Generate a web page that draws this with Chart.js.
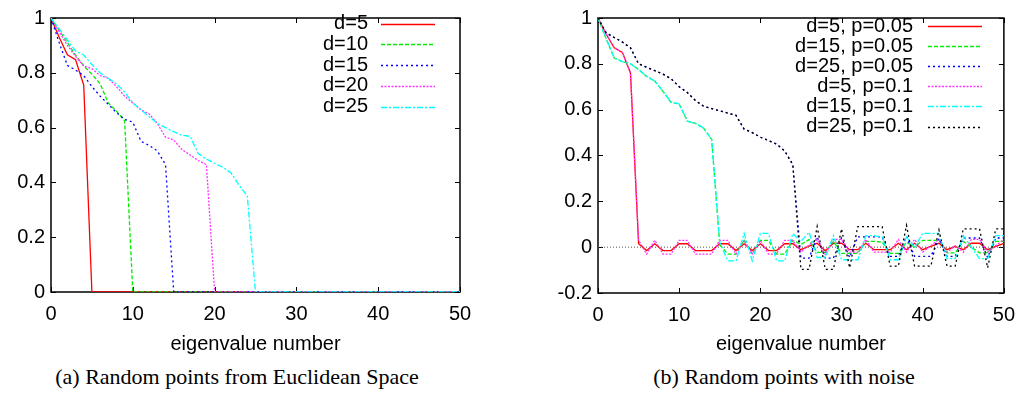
<!DOCTYPE html>
<html><head><meta charset="utf-8">
<script src="https://cdn.jsdelivr.net/npm/chart.js@4.4.0/dist/chart.umd.min.js"></script>
<style>
html,body{margin:0;padding:0;background:#fff;width:1025px;height:399px;overflow:hidden;}
.wrap{position:absolute;top:0;height:360px;}
.cap{position:absolute;top:364px;font-family:"Liberation Serif","Times New Roman",serif;font-size:22px;line-height:26px;color:#000;white-space:nowrap;transform:translateX(-50%);}
</style></head>
<body>
<div class="wrap" style="left:0;width:512px"><canvas id="c1" width="512" height="360"></canvas></div>
<div class="wrap" style="left:512px;width:513px"><canvas id="c2" width="513" height="360"></canvas></div>
<div class="cap" style="left:237px">(a) Random points from Euclidean Space</div>
<div class="cap" style="left:784px">(b) Random points with noise</div>
<script>
// ---------- data ----------
const eigenNumber = [0,1,2,3,4,5,6,7,8,9,10,11,12,13,14,15,16,17,18,19,20,21,22,23,24,25,26,27,28,29,30,31,32,33,34,35,36,37,38,39,40,41,42,43,44,45,46,47,48,49,50];

const xTicks = [0,10,20,30,40,50];
const xTickLabels = ['0','10','20','30','40','50'];
const yTicksLeft = [0,0.2,0.4,0.6,0.8,1];
const yTickLabelsLeft = ['0','0.2','0.4','0.6','0.8','1'];
const yTicksRight = [-0.2,0,0.2,0.4,0.6,0.8,1];
const yTickLabelsRight = ['-0.2','0','0.2','0.4','0.6','0.8','1'];

// (a) Random points from Euclidean Space
const seriesLabelsLeft = ['d=5','d=10','d=15','d=20','d=25'];
const leftD5  = [1,0.93,0.866,0.848,0.755,0,0,0,0,0,0,0,0,0,0,0,0,0,0,0,0,0,0,0,0,0,0,0,0,0,0,0,0,0,0,0,0,0,0,0,0,0,0,0,0,0,0,0,0,0,0];
const leftD10 = [1,0.955,0.91,0.865,0.825,0.795,0.76,0.69,0.66,0.625,0,0,0,0,0,0,0,0,0,0,0,0,0,0,0,0,0,0,0,0,0,0,0,0,0,0,0,0,0,0,0,0,0,0,0,0,0,0,0,0,0];
const leftD15 = [1,0.91,0.827,0.81,0.79,0.75,0.715,0.685,0.655,0.63,0.62,0.55,0.535,0.515,0.465,0,0,0,0,0,0,0,0,0,0,0,0,0,0,0,0,0,0,0,0,0,0,0,0,0,0,0,0,0,0,0,0,0,0,0,0];
const leftD20 = [1,0.95,0.9,0.86,0.825,0.815,0.79,0.78,0.75,0.715,0.69,0.665,0.65,0.615,0.565,0.555,0.52,0.5,0.48,0.465,0,0,0,0,0,0,0,0,0,0,0,0,0,0,0,0,0,0,0,0,0,0,0,0,0,0,0,0,0,0,0];
const leftD25 = [1,0.96,0.92,0.88,0.865,0.83,0.8,0.78,0.76,0.73,0.69,0.665,0.64,0.615,0.6,0.585,0.572,0.568,0.505,0.485,0.47,0.455,0.435,0.39,0.35,0,0,0,0,0,0,0,0,0,0,0,0,0,0,0,0,0,0,0,0,0,0,0,0,0,0];

// (b) Random points with noise
const seriesLabelsRight = ['d=5, p=0.05','d=15, p=0.05','d=25, p=0.05','d=5, p=0.1','d=15, p=0.1','d=25, p=0.1'];
const rightD5p05  = [1,0.93,0.87,0.85,0.76, 0.015,-0.015,0.015,-0.015,-0.015, 0.015,0.015,-0.015,-0.015,-0.015, 0.015,0.015,-0.015,0.015,-0.015, 0.015,-0.015,-0.015,0.015,0.015, -0.011,0.005,0.017,-0.016,0.017, 0.017,-0.011,-0.011,0.017,-0.011, -0.011,-0.011,0.017,-0.011,0.017, -0.011,0.003,0.017,-0.011,0.003, -0.011,0.017,0.017,-0.011,0.003, 0.017];
const rightD15p05 = [1,0.91,0.825,0.81,0.80, 0.775,0.745,0.725,0.68,0.632, 0.625,0.55,0.54,0.52,0.47, 0.01,-0.03,-0.03,0.03,-0.03, 0.03,0.03,-0.03,-0.03,0.03, 0.012,0.033,-0.023,-0.023,0.025, -0.027,-0.027,-0.027,0.025,0.025, 0.022,-0.027,-0.027,0.022,0.0, 0.03,0.03,0.03,-0.025,-0.025, 0.025,0.0,-0.025,-0.025,0.025, 0.025];
const rightD25p05 = [1,0.935,0.915,0.895,0.87, 0.80,0.785,0.77,0.755,0.735, 0.70,0.675,0.64,0.615,0.605, 0.595,0.585,0.575,0.515,0.50, 0.48,0.465,0.45,0.42,0.36, -0.048,-0.048,0.045,-0.048,-0.048, 0.04,-0.045,0.045,0.045,0.045, 0.045,-0.04,-0.04,0.047,-0.04, -0.04,-0.04,0.037,-0.04,-0.04, 0.04,0.04,0.04,-0.045,0.04, 0.04];
const rightD5p1   = [1,0.93,0.87,0.85,0.76, 0.03,-0.03,0.03,-0.03,-0.03, 0.03,0.03,-0.03,-0.03,-0.03, 0.03,0.03,-0.03,0.03,-0.03, 0.03,-0.03,-0.03,0.03,0.03, -0.022,0.01,0.034,-0.032,0.034, 0.034,-0.022,-0.022,0.034,-0.022, -0.022,-0.022,0.034,-0.022,0.034, -0.022,0.006,0.034,-0.022,0.006, -0.022,0.034,0.034,-0.022,0.006, 0.034];
const rightD15p1  = [1,0.91,0.825,0.81,0.80, 0.775,0.745,0.725,0.68,0.632, 0.625,0.55,0.54,0.52,0.47, 0.02,-0.06,-0.06,0.06,-0.06, 0.06,0.06,-0.06,-0.06,0.06, 0.025,0.065,-0.045,-0.045,0.05, -0.055,-0.055,-0.055,0.05,0.05, 0.045,-0.055,-0.055,0.045,0.0, 0.06,0.06,0.06,-0.05,-0.05, 0.05,0.0,-0.05,-0.05,0.05, 0.05];
const rightD25p1  = [1,0.935,0.915,0.895,0.87, 0.80,0.785,0.77,0.755,0.735, 0.70,0.675,0.64,0.615,0.605, 0.595,0.585,0.575,0.515,0.50, 0.48,0.465,0.45,0.42,0.36, -0.097,-0.097,0.09,-0.097,-0.097, 0.08,-0.09,0.09,0.09,0.09, 0.09,-0.083,-0.083,0.095,-0.083, -0.083,-0.083,0.075,-0.083,-0.083, 0.08,0.08,0.08,-0.09,0.08, 0.08];
const zeroRefX = [0,50];
const zeroRefY = [0,0];

// ---------- styling ----------
const SANS = '"Liberation Sans", Arial, Helvetica, sans-serif';
Chart.defaults.font.family = SANS;
Chart.defaults.font.size = 20;
Chart.defaults.color = '#000';

const styles = [
  {color:'#ff0000', dash:[]},
  {color:'#00ee00', dash:[4,2]},
  {color:'#0000ff', dash:[2,3]},
  {color:'#ff33ff', dash:[2,1.5]},
  {color:'#00ffff', dash:[6,2,2,2]},
  {color:'#000000', dash:[2,3]}
];

function toPts(xs, ys){ return ys.map((v,i)=>({x:xs[i], y:v})); }

function makeDatasets(labels, arrays){
  const n = arrays.length;
  return arrays.map((arr,i)=>({
    label: labels[i],
    data: toPts(eigenNumber, arr),
    borderColor: styles[i].color,
    borderDash: styles[i].dash,
    borderWidth: 1.3,
    pointRadius: 0,
    tension: 0,
    fill: false,
    order: n - i + 1
  }));
}

const framePlugin = {
  id:'frame',
  beforeDatasetsDraw(chart){
    const {ctx, chartArea:a} = chart;
    const x = chart.scales.x, y = chart.scales.y;
    ctx.save();
    ctx.strokeStyle = '#000';
    ctx.lineWidth = 1.5;
    ctx.setLineDash([]);
    ctx.strokeRect(a.left, a.top, a.right - a.left, a.bottom - a.top);
    ctx.lineWidth = 1;
    const L = 5;
    ctx.beginPath();
    x.ticks.forEach(t=>{
      const px = Math.round(x.getPixelForValue(t.value)) + 0.5;
      ctx.moveTo(px, a.bottom); ctx.lineTo(px, a.bottom - L);
      ctx.moveTo(px, a.top); ctx.lineTo(px, a.top + L);
    });
    y.ticks.forEach(t=>{
      const py = Math.round(y.getPixelForValue(t.value)) + 0.5;
      ctx.moveTo(a.left, py); ctx.lineTo(a.left + L, py);
      ctx.moveTo(a.right, py); ctx.lineTo(a.right - L, py);
    });
    ctx.stroke();
    ctx.restore();
  }
};

const keyPlugin = {
  id:'keyLegend',
  afterDatasetsDraw(chart, args, opts){
    const ctx = chart.ctx;
    ctx.save();
    ctx.font = '20px ' + SANS;
    ctx.textAlign = 'right';
    ctx.textBaseline = 'middle';
    let row = 0;
    chart.data.datasets.forEach(ds=>{
      if (!ds.label) return;
      const yy = opts.top + row * opts.step;
      ctx.fillStyle = '#000';
      ctx.fillText(ds.label, opts.textRight, yy);
      ctx.strokeStyle = ds.borderColor;
      ctx.lineWidth = 1.3;
      ctx.setLineDash(ds.borderDash || []);
      ctx.beginPath();
      ctx.moveTo(opts.lineX1, Math.round(yy) + 0.5);
      ctx.lineTo(opts.lineX2, Math.round(yy) + 0.5);
      ctx.stroke();
      row++;
    });
    ctx.restore();
  }
};

function makeChart(id, datasets, yMin, yMax, yTicks, yLabels, yAxisWidth, padRight, xAxisHeight, key){
  return new Chart(document.getElementById(id), {
    type:'line',
    data:{datasets},
    options:{
      responsive:false,
      animation:false,
      devicePixelRatio:1,
      layout:{padding:{top:10, right:padRight, bottom:0, left:0}},
      plugins:{legend:{display:false}, tooltip:{enabled:false}, keyLegend:key},
      scales:{
        x:{
          type:'linear', min:0, max:50,
          grid:{display:false, drawTicks:false},
          border:{display:false},
          afterBuildTicks:(s)=>{ s.ticks = xTicks.map(v=>({value:v})); },
          ticks:{padding:10, maxRotation:0, autoSkip:false, callback:(v,i)=>xTickLabels[i]},
          title:{display:true, text:'eigenvalue number', padding:{top:0,bottom:4}, font:{size:20}},
          afterFit:(s)=>{ s.height = xAxisHeight; }
        },
        y:{
          min:yMin, max:yMax,
          grid:{display:false, drawTicks:false},
          border:{display:false},
          afterBuildTicks:(s)=>{ s.ticks = yTicks.map(v=>({value:v})); },
          ticks:{padding:6, autoSkip:false, callback:(v,i)=>yLabels[i]},
          afterFit:(s)=>{ s.width = yAxisWidth; }
        }
      }
    },
    plugins:[framePlugin, keyPlugin]
  });
}

const leftSets = makeDatasets(seriesLabelsLeft, [leftD5,leftD10,leftD15,leftD20,leftD25]);
makeChart('c1', leftSets, 0, 1, yTicksLeft, yTickLabelsLeft, 51, 52, 68,
  {textRight:368, lineX1:381, lineX2:435, top:23.5, step:20.8});

const rightSets = makeDatasets(seriesLabelsRight, [rightD5p05,rightD15p05,rightD25p05,rightD5p1,rightD15p1,rightD25p1]);
rightSets.push({
  label:'',
  data: toPts(zeroRefX, zeroRefY),
  borderColor:'#555555',
  borderDash:[1,2],
  borderWidth:1,
  pointRadius:0,
  fill:false,
  order:100
});
makeChart('c2', rightSets, -0.2, 1, yTicksRight, yTickLabelsRight, 86, 18, 67,
  {textRight:401, lineX1:416, lineX2:470, top:26, step:20.1});
</script>
</body></html>
